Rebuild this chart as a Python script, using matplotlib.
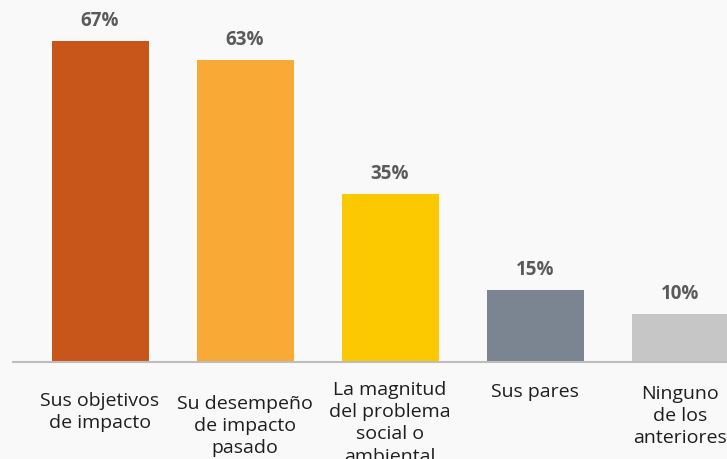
import matplotlib
matplotlib.use("Agg")
import matplotlib.pyplot as plt

# datos
categorias = ["Sus objetivos\nde impacto",
              "Su desempeño\nde impacto\npasado",
              "La magnitud\ndel problema\nsocial o\nambiental",
              "Sus pares",
              "Ninguno\nde los\nanteriores"]
valores = [67, 63, 35, 15, 10]
colores = ["#C8561A", "#F9A935", "#FCC800", "#7A8591", "#C6C6C6"]

plt.rcParams['font.family'] = ['Open Sans', 'DejaVu Sans']

W, H = 727, 460
fig = plt.figure(figsize=(W / 100, H / 100), dpi=100, facecolor="#F9F9F9")

# ejes: linea base en y=363 px, de x=13 px hasta el borde derecho
base_px = 363
ax = fig.add_axes([13 / W, (H - base_px) / H, 1 - 13 / W, base_px / H])
ax.set_facecolor("#F9F9F9")

paso = 145.0  # px entre barras
x = list(range(len(valores)))
ax.bar(x, valores, width=97 / paso, color=colores, zorder=2)

ax.set_xlim(-87 / paso, (727 - 13 - 87) / paso)
ax.set_ylim(0, base_px / 4.79)

for xi, v in zip(x, valores):
    ax.annotate(f"{v}%", (xi, v), xytext=(0, 8), textcoords="offset points",
                ha="center", va="bottom", fontsize=13.5, fontweight="bold",
                color="#5A5A5A")

# etiquetas de categoria
desfase = [29, 32, 18, 20, 22]  # px bajo la linea base
for xi, cat, d in zip(x, categorias, desfase):
    ax.annotate(cat, (xi, 0), xytext=(0, -d * 0.72), textcoords="offset points",
                ha="center", va="top", fontsize=14, color="#1E1E1E",
                linespacing=1.3, annotation_clip=False)

for s in ["top", "right", "left"]:
    ax.spines[s].set_visible(False)
ax.spines["bottom"].set_color("#BDBDBD")
ax.spines["bottom"].set_linewidth(1.5)
ax.set_xticks([])
ax.set_yticks([])

fig.savefig("out.png", dpi=100, facecolor=fig.get_facecolor())
